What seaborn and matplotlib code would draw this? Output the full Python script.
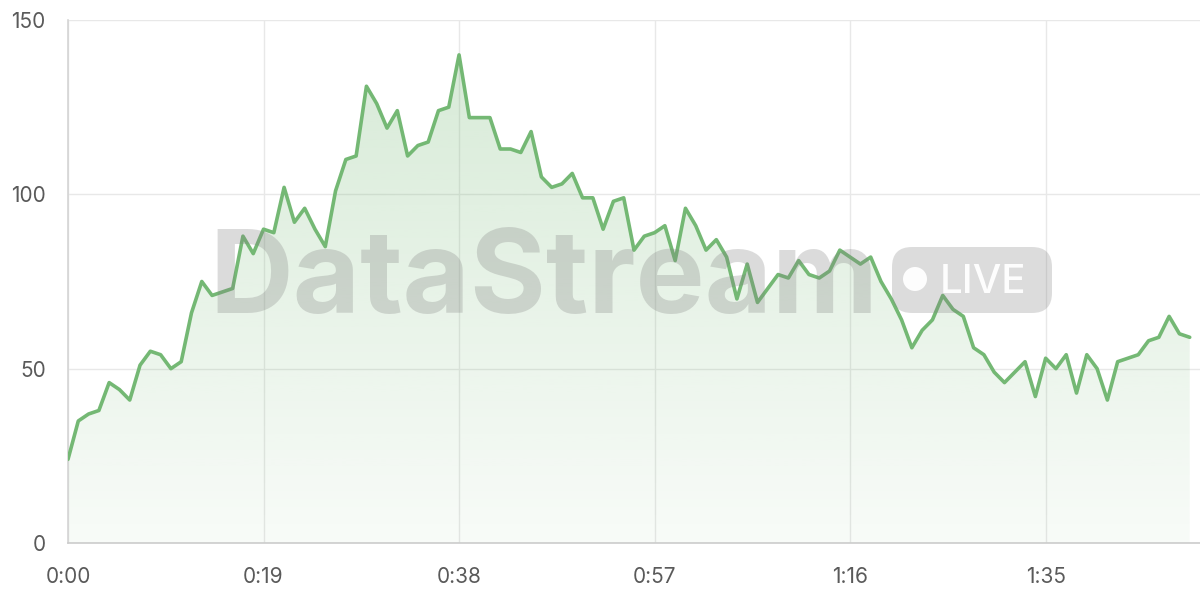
import numpy as np
import pandas as pd
import matplotlib
matplotlib.use("Agg")
import matplotlib.pyplot as plt
import seaborn as sns
from matplotlib.patches import FancyBboxPatch, Circle
from matplotlib.ticker import FuncFormatter

# seconds since start and the sampled value
seconds = list(range(110))
values = [24, 35, 37, 38, 46, 44, 41, 51, 55, 54,
          50, 52, 66, 75, 71, 72, 73, 88, 83, 90,
          89, 102, 92, 96, 90, 85, 101, 110, 111, 131,
          126, 119, 124, 111, 114, 115, 124, 125, 140, 122,
          122, 122, 113, 113, 112, 118, 105, 102, 103, 106,
          99, 99, 90, 98, 99, 84, 88, 89, 91, 81,
          96, 91, 84, 87, 82, 70, 80, 69, 73, 77,
          76, 81, 77, 76, 78, 84, 82, 80, 82, 75,
          70, 64, 56, 61, 64, 71, 67, 65, 56, 54,
          49, 46, 49, 52, 42, 53, 50, 54, 43, 54,
          50, 41, 52, 53, 54, 58, 59, 65, 60, 59]
x_ticks = [0, 19, 38, 57, 76, 95]
y_ticks = [0, 50, 100, 150]

df = pd.DataFrame({"t": seconds, "value": values})

line_color = "#74b874"
grid_color = "#e8e8e8"
label_color = "#5a5a5a"

sns.set_theme(style="white")
plt.rcParams["font.family"] = ["Inter", "DejaVu Sans"]

fig = plt.figure(figsize=(12, 6), dpi=100)
ax = fig.add_axes([68 / 1200, 57 / 600, 1132 / 1200, 523 / 600])

# gradient area under the line
poly = ax.fill_between(df["t"], df["value"], 0, color="none", lw=0)
grad = np.linspace(0.05, 0.30, 256).reshape(-1, 1)
rgba = np.zeros((256, 1, 4))
rgba[..., :3] = matplotlib.colors.to_rgb(line_color)
rgba[..., 3] = grad
img = ax.imshow(rgba, extent=[0, 110, 0, 150], origin="lower",
                aspect="auto", zorder=1)
img.set_clip_path(poly.get_paths()[0], transform=ax.transData)

# watermark sits between the fill and the line
fig.text(209 / 1200, 1 - 313 / 600, "DataStream", fontsize=83.5, fontweight="bold",
         color="#808080", alpha=0.28, ha="left", va="baseline", zorder=2)
pill = FancyBboxPatch((8.92, 2.87), 1.60, 0.66, boxstyle="round,pad=0,rounding_size=0.2",
                      transform=fig.dpi_scale_trans, facecolor="#808080", alpha=0.27,
                      edgecolor="none", zorder=2)
fig.patches.append(pill)
dot = Circle((9.15, 3.21), 0.12, transform=fig.dpi_scale_trans,
             facecolor="white", edgecolor="none", alpha=0.95, zorder=3)
fig.patches.append(dot)
fig.text(940 / 1200, 1 - 293 / 600, "LIVE", fontsize=29, fontweight="medium",
         color="white", alpha=0.95, ha="left", va="baseline", zorder=3)

sns.lineplot(data=df, x="t", y="value", ax=ax, color=line_color, lw=2.6, zorder=4)

ax.set_xlim(0, 110)
ax.set_ylim(0, 150)
ax.set_xticks(x_ticks)
ax.set_yticks(y_ticks)
ax.xaxis.set_major_formatter(FuncFormatter(lambda v, p: f"{int(v) // 60}:{int(v) % 60:02d}"))
ax.set_xlabel("")
ax.set_ylabel("")
ax.grid(True, color=grid_color, lw=1)
ax.set_axisbelow(True)
ax.patch.set_alpha(0)
for s in ["top", "right"]:
    ax.spines[s].set_visible(False)
ax.spines["left"].set_color("#d4d4d4")
ax.spines["bottom"].set_color("#cccccc")
ax.spines["left"].set_linewidth(1.2)
ax.spines["bottom"].set_linewidth(1.2)
ax.tick_params(axis="both", length=11, width=1, color=grid_color,
               labelsize=15, labelcolor=label_color)
ax.tick_params(axis="x", pad=6)
ax.tick_params(axis="y", pad=5)

fig.savefig("out.png", dpi=100)
